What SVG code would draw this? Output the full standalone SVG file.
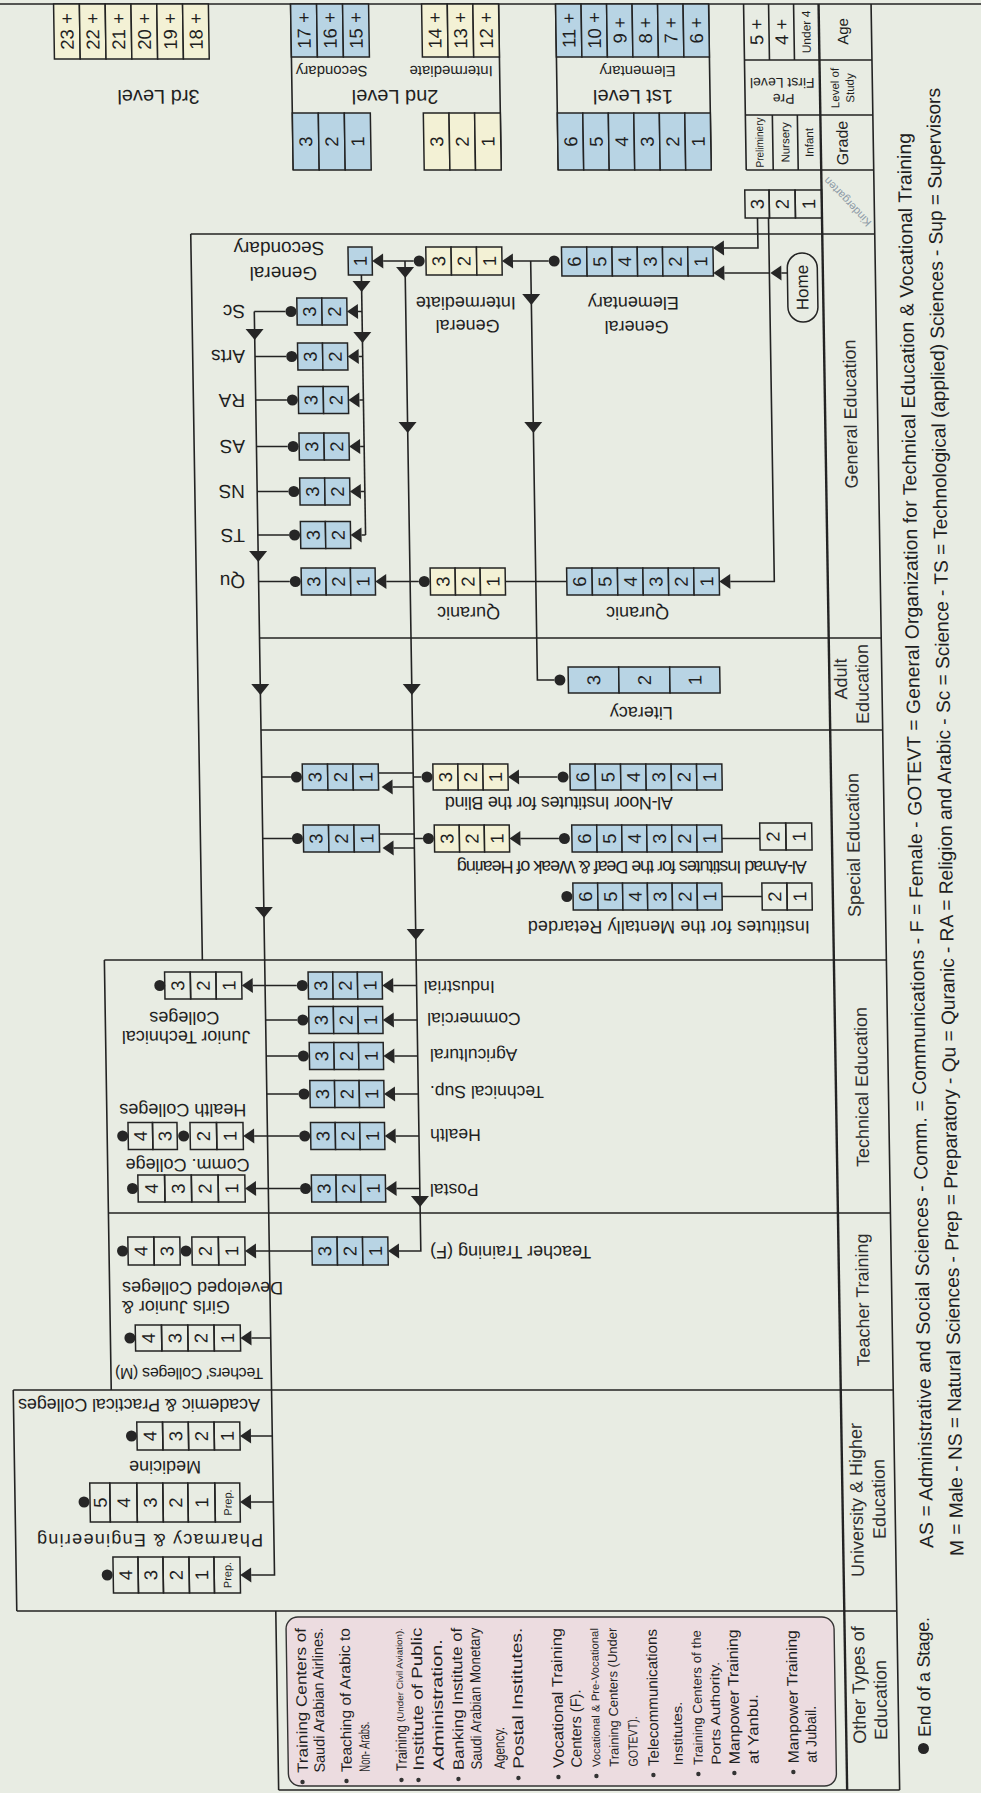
<svg xmlns="http://www.w3.org/2000/svg" width="981" height="1793" viewBox="0 0 981 1793">
<defs>
<style>
.l{stroke:#232323;stroke-width:1.6;fill:none}
.lt{stroke:#232323;stroke-width:2.4;fill:none}
.bx{stroke:#232323;stroke-width:1.5}
.b{fill:#b8d4e4}
.y{fill:#f3f1d5}
.w{fill:none}
.d,.a{fill:#262626}
text{font-family:"Liberation Sans",Arial,Helvetica,sans-serif;fill:#1f1f1f}
.n{font-size:18.5px;text-anchor:middle;dominant-baseline:central}
.ns{font-size:11px;text-anchor:middle;dominant-baseline:central}
.lb{font-size:18px;text-anchor:middle;dominant-baseline:central}
.ls{font-size:19px;text-anchor:start;dominant-baseline:central}
.le{font-size:17.5px;text-anchor:end;dominant-baseline:central}
.lv{font-size:20px;text-anchor:middle;dominant-baseline:central}
.sm{font-size:15px;text-anchor:middle;dominant-baseline:central}
.hd{font-size:18px;text-anchor:middle;dominant-baseline:central;fill:#2e2e2e}
.pk{font-size:15px;text-anchor:start;dominant-baseline:central}
.lg{font-size:19.2px;text-anchor:start;dominant-baseline:central}
</style>
<path id="ad" d="M-9,-11H9L0,0Z"/>
<path id="al" d="M0,0L11,-7.5V7.5Z"/>
</defs>
<rect width="981" height="1793" fill="#e8ece3"/>
<g transform="skewX(0.917)">

<g id="age-table">
<path class="l" d="M-2,4H990"/>
<g id="level3">
<rect class="bx y" x="53.5" y="4" width="25.8" height="55"/>
<rect class="bx y" x="79.3" y="4" width="25.8" height="55"/>
<rect class="bx y" x="105.1" y="4" width="25.8" height="55"/>
<rect class="bx y" x="130.9" y="4" width="25.8" height="55"/>
<rect class="bx y" x="156.7" y="4" width="25.8" height="55"/>
<rect class="bx y" x="182.5" y="4" width="25.8" height="55"/>
<text class="n" transform="translate(66.4,31.5) rotate(-90)">23 +</text>
<text class="n" transform="translate(92.2,31.5) rotate(-90)">22 +</text>
<text class="n" transform="translate(118,31.5) rotate(-90)">21 +</text>
<text class="n" transform="translate(143.8,31.5) rotate(-90)">20 +</text>
<text class="n" transform="translate(169.6,31.5) rotate(-90)">19 +</text>
<text class="n" transform="translate(195.4,31.5) rotate(-90)">18 +</text>
<text class="lv" transform="translate(157,97) rotate(180)">3rd Level</text>
</g>
<g id="level2">
<path class="l" d="M290.5,4V170M498.5,4V170"/>
<rect class="bx b" x="290.5" y="4" width="26" height="53"/>
<rect class="bx b" x="316.5" y="4" width="26" height="53"/>
<rect class="bx b" x="342.5" y="4" width="26" height="53"/>
<rect class="bx y" x="421.5" y="4" width="25.7" height="53"/>
<rect class="bx y" x="447.2" y="4" width="25.6" height="53"/>
<rect class="bx y" x="472.8" y="4" width="25.7" height="53"/>
<rect class="bx b" x="290.5" y="113" width="26" height="57"/>
<rect class="bx b" x="316.5" y="113" width="26" height="57"/>
<rect class="bx b" x="342.5" y="113" width="26" height="57"/>
<rect class="bx y" x="421.5" y="113" width="25.7" height="57"/>
<rect class="bx y" x="447.2" y="113" width="25.6" height="57"/>
<rect class="bx y" x="472.8" y="113" width="25.7" height="57"/>
<text class="n" transform="translate(303.5,30.5) rotate(-90)">17 +</text>
<text class="n" transform="translate(329.5,30.5) rotate(-90)">16 +</text>
<text class="n" transform="translate(355.5,30.5) rotate(-90)">15 +</text>
<text class="n" transform="translate(434.3,30.5) rotate(-90)">14 +</text>
<text class="n" transform="translate(460,30.5) rotate(-90)">13 +</text>
<text class="n" transform="translate(485.7,30.5) rotate(-90)">12 +</text>
<text class="n" transform="translate(303.5,141.5) rotate(-90)">3</text>
<text class="n" transform="translate(329.5,141.5) rotate(-90)">2</text>
<text class="n" transform="translate(355.5,141.5) rotate(-90)">1</text>
<text class="n" transform="translate(434.3,141.5) rotate(-90)">3</text>
<text class="n" transform="translate(460,141.5) rotate(-90)">2</text>
<text class="n" transform="translate(485.7,141.5) rotate(-90)">1</text>
<text class="sm" transform="translate(330.5,71) rotate(180)">Secondary</text>
<text class="sm" transform="translate(450,71) rotate(180)">Intermediate</text>
<text class="lv" transform="translate(393.5,97) rotate(180)">2nd Level</text>
</g>
<g id="level1">
<path class="l" d="M555.5,4V170M708.5,4V170"/>
<rect class="bx b" x="555.5" y="4" width="25.5" height="53"/>
<rect class="bx b" x="581" y="4" width="25.5" height="53"/>
<rect class="bx b" x="606.5" y="4" width="25.5" height="53"/>
<rect class="bx b" x="632" y="4" width="25.5" height="53"/>
<rect class="bx b" x="657.5" y="4" width="25.5" height="53"/>
<rect class="bx b" x="683" y="4" width="25.5" height="53"/>
<rect class="bx b" x="555.5" y="113" width="25.5" height="57"/>
<rect class="bx b" x="581" y="113" width="25.5" height="57"/>
<rect class="bx b" x="606.5" y="113" width="25.5" height="57"/>
<rect class="bx b" x="632" y="113" width="25.5" height="57"/>
<rect class="bx b" x="657.5" y="113" width="25.5" height="57"/>
<rect class="bx b" x="683" y="113" width="25.5" height="57"/>
<text class="n" transform="translate(568.3,30.5) rotate(-90)">11 +</text>
<text class="n" transform="translate(593.8,30.5) rotate(-90)">10 +</text>
<text class="n" transform="translate(619.3,30.5) rotate(-90)">9 +</text>
<text class="n" transform="translate(644.8,30.5) rotate(-90)">8 +</text>
<text class="n" transform="translate(670.3,30.5) rotate(-90)">7 +</text>
<text class="n" transform="translate(695.8,30.5) rotate(-90)">6 +</text>
<text class="n" transform="translate(568.3,141.5) rotate(-90)">6</text>
<text class="n" transform="translate(593.8,141.5) rotate(-90)">5</text>
<text class="n" transform="translate(619.3,141.5) rotate(-90)">4</text>
<text class="n" transform="translate(644.8,141.5) rotate(-90)">3</text>
<text class="n" transform="translate(670.3,141.5) rotate(-90)">2</text>
<text class="n" transform="translate(695.8,141.5) rotate(-90)">1</text>
<text class="sm" transform="translate(636.5,71) rotate(180)">Elementary</text>
<text class="lv" transform="translate(631.5,97) rotate(180)">1st Level</text>
</g>
<g id="prefirst">
<path class="l" d="M743.5,4V170M743.5,60H871M743.5,115H871M743.5,170H871M768.5,4V60M793.5,4V60M770.5,115V170M795.5,115V170"/>
<text class="n" transform="translate(756,32) rotate(-90)">5 +</text>
<text class="n" transform="translate(781,32) rotate(-90)">4 +</text>
<text class="ns" style="font-size:12px" transform="translate(806,32) rotate(-90)">Under 4</text>
<text class="ns" transform="translate(757,142.5) rotate(-90)" textLength="50" lengthAdjust="spacingAndGlyphs">Preliminery</text>
<text class="ns" style="font-size:11.5px" transform="translate(783,142.5) rotate(-90)">Nursery</text>
<text class="ns" style="font-size:11.5px" transform="translate(807,142.5) rotate(-90)">Infant</text>
<text class="ns" style="font-size:14px" transform="translate(781,83) rotate(180)">First Level</text>
<text class="ns" style="font-size:14px" transform="translate(782,99) rotate(180)">Pre</text>
</g>
<g id="header-top">
<text class="ns" style="font-size:15px" transform="translate(842,31.5) rotate(-90)">Age</text>
<text class="ns" style="font-size:11.5px" transform="translate(833.5,88) rotate(-90)">Level of</text>
<text class="ns" style="font-size:11.5px" transform="translate(848.5,88) rotate(-90)">Study</text>
<text class="ns" style="font-size:16px" transform="translate(840,143) rotate(-90)">Grade</text>
<text class="ns" style="font-size:11px;fill:#8d9aa6" transform="translate(844,202) rotate(-133)">Kindergarten</text>
</g>
</g>

<g id="frame">
<path class="lt" d="M818.5,4V1790"/>
<path class="l" d="M871,4V1790M187,234H871M187,234V960M89,960H871M249.3,638H871M249.3,730H871M89,960V1390M89,1213H871M-9,1390H871M-9,1390V1611M-9,1611H871M250,1611V1790M250,1790H871"/>
</g>

<g id="header">
<text class="hd" transform="translate(844,414) rotate(-90)">General Education</text>
<text class="hd" transform="translate(830,679) rotate(-90)">Adult</text>
<text class="hd" transform="translate(851.5,684) rotate(-90)">Education</text>
<text class="hd" transform="translate(840,845) rotate(-90)">Special Education</text>
<text class="hd" transform="translate(844.5,1087) rotate(-90)">Technical Education</text>
<text class="hd" transform="translate(842,1300) rotate(-90)">Teacher Training</text>
<text class="hd" transform="translate(832.7,1500) rotate(-90)">University &amp; Higher</text>
<text class="hd" transform="translate(855,1499) rotate(-90)">Education</text>
<text class="hd" transform="translate(832,1685) rotate(-90)">Other Types of</text>
<text class="hd" transform="translate(853.5,1700) rotate(-90)">Education</text>
</g>

<g id="connectors">
<path class="l" d="M249.3,311.5V1575H226"/>
<path class="l" d="M400.8,261V1251H379"/>
<path class="l" d="M526.5,261V680H543.5"/>
<path class="l" d="M357,275V535"/>
<path class="l" d="M379,261H409.5M508.8,261H544.5"/>
<path class="l" d="M754,218V248H720M765,218V581.5H721M765,273H720M777,273H783"/>
<path class="l" d="M249.3,311.5H280.5M353,311.5H357M249.3,356.5H280.5M353,356.5H357M249.3,400H280.5M353,400H357M249.3,446.5H280.5M353,446.5H357M249.3,491.5H280.5M353,491.5H357M249.3,535H280.5M353,535H357"/>
<path class="l" d="M249.3,581.5H280.5M377,581.5H409.5M496,581.5H557.5"/>
<path class="l" d="M249.3,777H278.5M366,773H400.8M380,787H400.8M400.8,777H409M506.6,777H545"/>
<path class="l" d="M249.3,838.5H278.5M366,834H400.8M380,848H400.8M400.8,838.5H409.5M507,838.5H545.5M708.5,838.5H746.5M707.7,896.5H747.7"/>
<path class="l" d="M237,985.5H281M377.5,985.5H400.8M249.3,1020H281M377.5,1020H400.8M249.3,1056H281M377.5,1056H400.8M249.3,1094H281M377.5,1094H400.8M236,1136H281M377.5,1136H400.8M237,1188.5H281M377.5,1188.5H400.8"/>
<path class="l" d="M236,1251H292M230,1338H249.3M228,1436H249.3M227,1502H249.3"/>
<use href="#ad" class="a" x="249.3" y="340"/>
<use href="#ad" class="a" x="249.3" y="562"/>
<use href="#ad" class="a" x="249.3" y="695"/>
<use href="#ad" class="a" x="249.3" y="918"/>
<use href="#ad" class="a" x="400.8" y="278"/>
<use href="#ad" class="a" x="400.8" y="433"/>
<use href="#ad" class="a" x="400.8" y="695"/>
<use href="#ad" class="a" x="400.8" y="940"/>
<use href="#ad" class="a" x="400.8" y="1207"/>
<use href="#ad" class="a" x="526.5" y="305"/>
<use href="#ad" class="a" x="526.5" y="433"/>
<use href="#ad" class="a" x="357" y="292"/>
<use href="#ad" class="a" x="357" y="343"/>
<use href="#al" class="a" x="368" y="261"/>
<use href="#al" class="a" x="497.8" y="261"/>
<use href="#al" class="a" x="709" y="248"/>
<use href="#al" class="a" x="709" y="273"/>
<use href="#al" class="a" x="766" y="273"/>
<use href="#al" class="a" x="342" y="311.5"/>
<use href="#al" class="a" x="342" y="356.5"/>
<use href="#al" class="a" x="342" y="400"/>
<use href="#al" class="a" x="342" y="446.5"/>
<use href="#al" class="a" x="342" y="491.5"/>
<use href="#al" class="a" x="342" y="535"/>
<use href="#al" class="a" x="366" y="581.5"/>
<use href="#al" class="a" x="710" y="581.5"/>
<use href="#al" class="a" x="369" y="787"/>
<use href="#al" class="a" x="495.6" y="777"/>
<use href="#al" class="a" x="369" y="848"/>
<use href="#al" class="a" x="496" y="838.5"/>
<use href="#al" class="a" x="366.5" y="985.5"/>
<use href="#al" class="a" x="366.5" y="1020"/>
<use href="#al" class="a" x="366.5" y="1056"/>
<use href="#al" class="a" x="366.5" y="1094"/>
<use href="#al" class="a" x="366.5" y="1136"/>
<use href="#al" class="a" x="366.5" y="1188.5"/>
<use href="#al" class="a" x="226" y="985.5"/>
<use href="#al" class="a" x="225" y="1136"/>
<use href="#al" class="a" x="226" y="1188.5"/>
<use href="#al" class="a" x="368" y="1251"/>
<use href="#al" class="a" x="225" y="1251"/>
<use href="#al" class="a" x="219" y="1338"/>
<use href="#al" class="a" x="217" y="1436"/>
<use href="#al" class="a" x="216" y="1502"/>
<use href="#al" class="a" x="215" y="1575"/>
</g>

<g id="kindergarten">
<rect class="bx w" x="741.7" y="190" width="24.3" height="28"/>
<rect class="bx w" x="766" y="190" width="26" height="28"/>
<rect class="bx w" x="792" y="190" width="26.5" height="28"/>
<text class="n" transform="translate(753.9,204) rotate(-90)">3</text>
<text class="n" transform="translate(779,204) rotate(-90)">2</text>
<text class="n" transform="translate(805.3,204) rotate(-90)">1</text>
</g>
<g id="home">
<rect class="bx w" x="783" y="253" width="30" height="69" rx="15"/>
<text class="n" style="font-size:17px" transform="translate(798,287.5) rotate(-90)">Home</text>
</g>

<g id="general-secondary">
<rect class="bx b" x="344" y="247" width="24" height="28"/>
<text class="n" transform="translate(356,261) rotate(-90)">1</text>
<text class="lb" style="font-size:19px" transform="translate(275,248) rotate(180)">Secondary</text>
<text class="lb" style="font-size:19px" transform="translate(279,273) rotate(180)">General</text>
</g>
<g id="general-intermediate">
<circle class="d" cx="415" cy="261" r="5.5"/>
<rect class="bx y" x="421.8" y="247" width="25.3" height="28"/>
<rect class="bx y" x="447.1" y="247" width="25.4" height="28"/>
<rect class="bx y" x="472.5" y="247" width="25.3" height="28"/>
<text class="n" transform="translate(434.5,261) rotate(-90)">3</text>
<text class="n" transform="translate(459.8,261) rotate(-90)">2</text>
<text class="n" transform="translate(485.2,261) rotate(-90)">1</text>
<text class="lb" transform="translate(461,303) rotate(180)">Intermediate</text>
<text class="lb" transform="translate(462.4,326) rotate(180)">General</text>
</g>
<g id="general-elementary">
<circle class="d" cx="550" cy="261" r="5.5"/>
<rect class="bx b" x="557.5" y="247" width="25.25" height="29"/>
<rect class="bx b" x="582.75" y="247" width="25.25" height="29"/>
<rect class="bx b" x="608" y="247" width="25.25" height="29"/>
<rect class="bx b" x="633.25" y="247" width="25.25" height="29"/>
<rect class="bx b" x="658.5" y="247" width="25.25" height="29"/>
<rect class="bx b" x="683.75" y="247" width="25.25" height="29"/>
<text class="n" transform="translate(570.1,261.5) rotate(-90)">6</text>
<text class="n" transform="translate(595.4,261.5) rotate(-90)">5</text>
<text class="n" transform="translate(620.6,261.5) rotate(-90)">4</text>
<text class="n" transform="translate(645.9,261.5) rotate(-90)">3</text>
<text class="n" transform="translate(671.1,261.5) rotate(-90)">2</text>
<text class="n" transform="translate(696.4,261.5) rotate(-90)">1</text>
<text class="lb" transform="translate(628.6,303) rotate(180)">Elementary</text>
<text class="lb" transform="translate(631.3,327) rotate(180)">General</text>
</g>

<g id="sec-branches">
<circle class="d" cx="286" cy="311.5" r="5.5"/><rect class="bx b" x="292" y="298" width="25" height="27"/><rect class="bx b" x="317" y="298" width="25" height="27"/>
<text class="n" transform="translate(304.5,311.5) rotate(-90)">3</text><text class="n" transform="translate(329.5,311.5) rotate(-90)">2</text>
<text class="ls" transform="translate(240,311.5) rotate(180)">Sc</text>
<circle class="d" cx="286" cy="356.5" r="5.5"/><rect class="bx b" x="292" y="343" width="25" height="27"/><rect class="bx b" x="317" y="343" width="25" height="27"/>
<text class="n" transform="translate(304.5,356.5) rotate(-90)">3</text><text class="n" transform="translate(329.5,356.5) rotate(-90)">2</text>
<text class="ls" transform="translate(239.3,356.5) rotate(180)">Arts</text>
<circle class="d" cx="286" cy="400" r="5.5"/><rect class="bx b" x="292" y="386.5" width="25" height="27"/><rect class="bx b" x="317" y="386.5" width="25" height="27"/>
<text class="n" transform="translate(304.5,400) rotate(-90)">3</text><text class="n" transform="translate(329.5,400) rotate(-90)">2</text>
<text class="ls" transform="translate(238.6,400) rotate(180)">RA</text>
<circle class="d" cx="286" cy="446.5" r="5.5"/><rect class="bx b" x="292" y="433" width="25" height="27"/><rect class="bx b" x="317" y="433" width="25" height="27"/>
<text class="n" transform="translate(304.5,446.5) rotate(-90)">3</text><text class="n" transform="translate(329.5,446.5) rotate(-90)">2</text>
<text class="ls" transform="translate(237.9,446.5) rotate(180)">AS</text>
<circle class="d" cx="286" cy="491.5" r="5.5"/><rect class="bx b" x="292" y="478" width="25" height="27"/><rect class="bx b" x="317" y="478" width="25" height="27"/>
<text class="n" transform="translate(304.5,491.5) rotate(-90)">3</text><text class="n" transform="translate(329.5,491.5) rotate(-90)">2</text>
<text class="ls" transform="translate(237.1,491.5) rotate(180)">NS</text>
<circle class="d" cx="286" cy="535" r="5.5"/><rect class="bx b" x="292" y="521.5" width="25" height="27"/><rect class="bx b" x="317" y="521.5" width="25" height="27"/>
<text class="n" transform="translate(304.5,535) rotate(-90)">3</text><text class="n" transform="translate(329.5,535) rotate(-90)">2</text>
<text class="ls" transform="translate(236.4,535) rotate(180)">TS</text>
<circle class="d" cx="286" cy="581.5" r="5.5"/>
<rect class="bx b" x="292" y="568" width="24.7" height="27"/><rect class="bx b" x="316.7" y="568" width="24.6" height="27"/><rect class="bx b" x="341.3" y="568" width="24.7" height="27"/>
<text class="n" transform="translate(304.3,581.5) rotate(-90)">3</text><text class="n" transform="translate(329,581.5) rotate(-90)">2</text><text class="n" transform="translate(353.6,581.5) rotate(-90)">1</text>
<text class="ls" transform="translate(235.7,581.5) rotate(180)">Qu</text>
</g>

<g id="quranic">
<circle class="d" cx="415" cy="581.5" r="5.5"/>
<rect class="bx y" x="421" y="568" width="25" height="27"/><rect class="bx y" x="446" y="568" width="25" height="27"/><rect class="bx y" x="471" y="568" width="25" height="27"/>
<text class="n" transform="translate(433.5,581.5) rotate(-90)">3</text><text class="n" transform="translate(458.5,581.5) rotate(-90)">2</text><text class="n" transform="translate(483.5,581.5) rotate(-90)">1</text>
<text class="lb" transform="translate(458.7,613) rotate(180)">Quranic</text>
<rect class="bx b" x="557.5" y="568" width="25.4" height="27"/><rect class="bx b" x="582.9" y="568" width="25.4" height="27"/><rect class="bx b" x="608.3" y="568" width="25.45" height="27"/><rect class="bx b" x="633.75" y="568" width="25.45" height="27"/><rect class="bx b" x="659.2" y="568" width="25.4" height="27"/><rect class="bx b" x="684.6" y="568" width="25.4" height="27"/>
<text class="n" transform="translate(570.2,581.5) rotate(-90)">6</text><text class="n" transform="translate(595.6,581.5) rotate(-90)">5</text><text class="n" transform="translate(621,581.5) rotate(-90)">4</text><text class="n" transform="translate(646.5,581.5) rotate(-90)">3</text><text class="n" transform="translate(671.9,581.5) rotate(-90)">2</text><text class="n" transform="translate(697.3,581.5) rotate(-90)">1</text>
<text class="lb" transform="translate(627.7,613) rotate(180)">Quranic</text>
</g>

<g id="literacy">
<circle class="d" cx="549" cy="680" r="5.5"/>
<rect class="bx b" x="557.4" y="667" width="50.6" height="26"/><rect class="bx b" x="608" y="667" width="51" height="26"/><rect class="bx b" x="659" y="667" width="50" height="26"/>
<text class="n" transform="translate(582.7,680) rotate(-90)">3</text><text class="n" transform="translate(633.5,680) rotate(-90)">2</text><text class="n" transform="translate(684,680) rotate(-90)">1</text>
<text class="lb" transform="translate(630,713) rotate(180)">Literacy</text>
</g>

<g id="al-noor">
<circle class="d" cx="284" cy="777" r="5.5"/>
<rect class="bx b" x="290" y="764" width="25.3" height="26"/><rect class="bx b" x="315.3" y="764" width="25.4" height="26"/><rect class="bx b" x="340.7" y="764" width="25.3" height="26"/>
<text class="n" transform="translate(302.6,777) rotate(-90)">3</text><text class="n" transform="translate(328,777) rotate(-90)">2</text><text class="n" transform="translate(353.4,777) rotate(-90)">1</text>
<circle class="d" cx="414.6" cy="777" r="5.5"/>
<rect class="bx y" x="420.6" y="764" width="25" height="26"/><rect class="bx y" x="445.6" y="764" width="25" height="26"/><rect class="bx y" x="470.6" y="764" width="25" height="26"/>
<text class="n" transform="translate(433.1,777) rotate(-90)">3</text><text class="n" transform="translate(458.1,777) rotate(-90)">2</text><text class="n" transform="translate(483.1,777) rotate(-90)">1</text>
<circle class="d" cx="550.6" cy="777" r="5.5"/>
<rect class="bx b" x="557.6" y="764" width="25.3" height="26"/><rect class="bx b" x="582.9" y="764" width="25.4" height="26"/><rect class="bx b" x="608.3" y="764" width="25.3" height="26"/><rect class="bx b" x="633.6" y="764" width="25.3" height="26"/><rect class="bx b" x="658.9" y="764" width="25.4" height="26"/><rect class="bx b" x="684.3" y="764" width="25.3" height="26"/>
<text class="n" transform="translate(570.3,777) rotate(-90)">6</text><text class="n" transform="translate(595.6,777) rotate(-90)">5</text><text class="n" transform="translate(621,777) rotate(-90)">4</text><text class="n" transform="translate(646.3,777) rotate(-90)">3</text><text class="n" transform="translate(671.6,777) rotate(-90)">2</text><text class="n" transform="translate(697,777) rotate(-90)">1</text>
<text class="lb" transform="translate(546,803) rotate(180)" textLength="228">Al-Noor Institutes for the Blind</text>
</g>

<g id="al-amad">
<circle class="d" cx="284" cy="838.5" r="5.5"/>
<rect class="bx b" x="290" y="825" width="25.3" height="27"/><rect class="bx b" x="315.3" y="825" width="25.4" height="27"/><rect class="bx b" x="340.7" y="825" width="25.3" height="27"/>
<text class="n" transform="translate(302.6,838.5) rotate(-90)">3</text><text class="n" transform="translate(328,838.5) rotate(-90)">2</text><text class="n" transform="translate(353.4,838.5) rotate(-90)">1</text>
<circle class="d" cx="415" cy="838.5" r="5.5"/>
<rect class="bx y" x="421" y="825" width="25" height="27"/><rect class="bx y" x="446" y="825" width="25" height="27"/><rect class="bx y" x="471" y="825" width="25" height="27"/>
<text class="n" transform="translate(433.5,838.5) rotate(-90)">3</text><text class="n" transform="translate(458.5,838.5) rotate(-90)">2</text><text class="n" transform="translate(483.5,838.5) rotate(-90)">1</text>
<circle class="d" cx="551" cy="838.5" r="5.5"/>
<rect class="bx b" x="558.5" y="825" width="25" height="27"/><rect class="bx b" x="583.5" y="825" width="25" height="27"/><rect class="bx b" x="608.5" y="825" width="25" height="27"/><rect class="bx b" x="633.5" y="825" width="25" height="27"/><rect class="bx b" x="658.5" y="825" width="25" height="27"/><rect class="bx b" x="683.5" y="825" width="25" height="27"/>
<text class="n" transform="translate(571,838.5) rotate(-90)">6</text><text class="n" transform="translate(596,838.5) rotate(-90)">5</text><text class="n" transform="translate(621,838.5) rotate(-90)">4</text><text class="n" transform="translate(646,838.5) rotate(-90)">3</text><text class="n" transform="translate(671,838.5) rotate(-90)">2</text><text class="n" transform="translate(696,838.5) rotate(-90)">1</text>
<rect class="bx w" x="746.5" y="823" width="26" height="27"/><rect class="bx w" x="772.5" y="823" width="26" height="27"/>
<text class="n" transform="translate(759.5,836.5) rotate(-90)">2</text><text class="n" transform="translate(785.5,836.5) rotate(-90)">1</text>
<text class="lb" transform="translate(618,867) rotate(180)" textLength="350">Al-Amad Institutes for the Deaf &amp; Weak of Hearing</text>
</g>

<g id="mentally-retarded">
<circle class="d" cx="552.5" cy="896.5" r="5.5"/>
<rect class="bx b" x="558.7" y="883" width="24.8" height="27"/><rect class="bx b" x="583.5" y="883" width="24.9" height="27"/><rect class="bx b" x="608.4" y="883" width="24.8" height="27"/><rect class="bx b" x="633.2" y="883" width="24.8" height="27"/><rect class="bx b" x="658" y="883" width="24.9" height="27"/><rect class="bx b" x="682.9" y="883" width="24.8" height="27"/>
<text class="n" transform="translate(571.1,896.5) rotate(-90)">6</text><text class="n" transform="translate(596,896.5) rotate(-90)">5</text><text class="n" transform="translate(620.8,896.5) rotate(-90)">4</text><text class="n" transform="translate(645.6,896.5) rotate(-90)">3</text><text class="n" transform="translate(670.5,896.5) rotate(-90)">2</text><text class="n" transform="translate(695.3,896.5) rotate(-90)">1</text>
<rect class="bx w" x="747.7" y="883" width="25" height="27"/><rect class="bx w" x="772.7" y="883" width="25" height="27"/>
<text class="n" transform="translate(760.2,896.5) rotate(-90)">2</text><text class="n" transform="translate(785.2,896.5) rotate(-90)">1</text>
<text class="lb" transform="translate(654,927) rotate(180)" textLength="282">Institutes for the Mentally Retarded</text>
</g>

<g id="technical-institutes">
<circle class="d" cx="286.5" cy="985.5" r="5.5"/><rect class="bx b" x="292.5" y="972" width="24.7" height="27"/><rect class="bx b" x="317.2" y="972" width="24.6" height="27"/><rect class="bx b" x="341.8" y="972" width="24.7" height="27"/>
<text class="n" transform="translate(304.8,985.5) rotate(-90)">3</text><text class="n" transform="translate(329.5,985.5) rotate(-90)">2</text><text class="n" transform="translate(354.2,985.5) rotate(-90)">1</text>
<text class="le" transform="translate(408,987) rotate(180)">Industrial</text>
<circle class="d" cx="286.5" cy="1020" r="5.5"/><rect class="bx b" x="292.5" y="1006.5" width="24.7" height="27"/><rect class="bx b" x="317.2" y="1006.5" width="24.6" height="27"/><rect class="bx b" x="341.8" y="1006.5" width="24.7" height="27"/>
<text class="n" transform="translate(304.8,1020) rotate(-90)">3</text><text class="n" transform="translate(329.5,1020) rotate(-90)">2</text><text class="n" transform="translate(354.2,1020) rotate(-90)">1</text>
<text class="le" transform="translate(411,1019) rotate(180)">Commercial</text>
<circle class="d" cx="286.5" cy="1056" r="5.5"/><rect class="bx b" x="292.5" y="1042.5" width="24.7" height="27"/><rect class="bx b" x="317.2" y="1042.5" width="24.6" height="27"/><rect class="bx b" x="341.8" y="1042.5" width="24.7" height="27"/>
<text class="n" transform="translate(304.8,1056) rotate(-90)">3</text><text class="n" transform="translate(329.5,1056) rotate(-90)">2</text><text class="n" transform="translate(354.2,1056) rotate(-90)">1</text>
<text class="le" transform="translate(413,1055) rotate(180)">Agricultural</text>
<circle class="d" cx="286.5" cy="1094" r="5.5"/><rect class="bx b" x="292.5" y="1080.5" width="24.7" height="27"/><rect class="bx b" x="317.2" y="1080.5" width="24.6" height="27"/><rect class="bx b" x="341.8" y="1080.5" width="24.7" height="27"/>
<text class="n" transform="translate(304.8,1094) rotate(-90)">3</text><text class="n" transform="translate(329.5,1094) rotate(-90)">2</text><text class="n" transform="translate(354.2,1094) rotate(-90)">1</text>
<text class="le" transform="translate(412.5,1092) rotate(180)">Technical Sup.</text>
<circle class="d" cx="286.5" cy="1136" r="5.5"/><rect class="bx b" x="292.5" y="1122.5" width="24.7" height="27"/><rect class="bx b" x="317.2" y="1122.5" width="24.6" height="27"/><rect class="bx b" x="341.8" y="1122.5" width="24.7" height="27"/>
<text class="n" transform="translate(304.8,1136) rotate(-90)">3</text><text class="n" transform="translate(329.5,1136) rotate(-90)">2</text><text class="n" transform="translate(354.2,1136) rotate(-90)">1</text>
<text class="le" transform="translate(412,1135) rotate(180)">Health</text>
<circle class="d" cx="286.5" cy="1188.5" r="5.5"/><rect class="bx b" x="292.5" y="1175" width="24.7" height="27"/><rect class="bx b" x="317.2" y="1175" width="24.6" height="27"/><rect class="bx b" x="341.8" y="1175" width="24.7" height="27"/>
<text class="n" transform="translate(304.8,1188.5) rotate(-90)">3</text><text class="n" transform="translate(329.5,1188.5) rotate(-90)">2</text><text class="n" transform="translate(354.2,1188.5) rotate(-90)">1</text>
<text class="le" transform="translate(411,1190) rotate(180)">Postal</text>
</g>

<g id="junior-technical-colleges">
<circle class="d" cx="144" cy="985.5" r="5.5"/>
<rect class="bx w" x="149" y="972" width="25.7" height="27"/><rect class="bx w" x="174.7" y="972" width="25.6" height="27"/><rect class="bx w" x="200.3" y="972" width="25.7" height="27"/>
<text class="n" transform="translate(161.8,985.5) rotate(-90)">3</text><text class="n" transform="translate(187.5,985.5) rotate(-90)">2</text><text class="n" transform="translate(213.1,985.5) rotate(-90)">1</text>
<text class="lb" transform="translate(168,1018) rotate(180)">Colleges</text>
<text class="lb" transform="translate(169.5,1037) rotate(180)">Junior Technical</text>
</g>
<g id="health-colleges">
<circle class="d" cx="104.5" cy="1136" r="5.5"/>
<rect class="bx w" x="110" y="1122.5" width="24.5" height="27"/><rect class="bx w" x="134.5" y="1122.5" width="24.5" height="27"/>
<circle class="d" cx="165.5" cy="1136" r="5.5"/>
<rect class="bx w" x="172" y="1122.5" width="26.5" height="27"/><rect class="bx w" x="198.5" y="1122.5" width="26.5" height="27"/>
<text class="n" transform="translate(122.2,1136) rotate(-90)">4</text><text class="n" transform="translate(146.7,1136) rotate(-90)">3</text><text class="n" transform="translate(185.2,1136) rotate(-90)">2</text><text class="n" transform="translate(211.7,1136) rotate(-90)">1</text>
<text class="lb" transform="translate(165,1110) rotate(180)">Health Colleges</text>
</g>
<g id="comm-college">
<circle class="d" cx="113.5" cy="1188.5" r="5.5"/>
<rect class="bx w" x="119" y="1175" width="26.75" height="27"/><rect class="bx w" x="145.75" y="1175" width="26.75" height="27"/><rect class="bx w" x="172.5" y="1175" width="26.75" height="27"/><rect class="bx w" x="199.25" y="1175" width="26.75" height="27"/>
<text class="n" transform="translate(132.4,1188.5) rotate(-90)">4</text><text class="n" transform="translate(159.1,1188.5) rotate(-90)">3</text><text class="n" transform="translate(185.9,1188.5) rotate(-90)">2</text><text class="n" transform="translate(212.6,1188.5) rotate(-90)">1</text>
<text class="lb" transform="translate(169,1165) rotate(180)">Comm. College</text>
</g>

<g id="teacher-training-f">
<rect class="bx b" x="292" y="1237" width="25.3" height="28"/><rect class="bx b" x="317.3" y="1237" width="25.4" height="28"/><rect class="bx b" x="342.7" y="1237" width="25.3" height="28"/>
<text class="n" transform="translate(304.6,1251) rotate(-90)">3</text><text class="n" transform="translate(330,1251) rotate(-90)">2</text><text class="n" transform="translate(355.3,1251) rotate(-90)">1</text>
<text class="le" style="font-size:18px" transform="translate(410,1252) rotate(180)">Teacher Training (F)</text>
</g>
<g id="girls-colleges">
<circle class="d" cx="102.5" cy="1251" r="5.5"/>
<rect class="bx w" x="108" y="1237" width="26" height="28"/><rect class="bx w" x="134" y="1237" width="26" height="28"/>
<circle class="d" cx="166" cy="1251" r="5.5"/>
<rect class="bx w" x="172" y="1237" width="26.5" height="28"/><rect class="bx w" x="198.5" y="1237" width="26.5" height="28"/>
<text class="n" transform="translate(121,1251) rotate(-90)">4</text><text class="n" transform="translate(147,1251) rotate(-90)">3</text><text class="n" transform="translate(185.2,1251) rotate(-90)">2</text><text class="n" transform="translate(211.7,1251) rotate(-90)">1</text>
<text class="le" style="font-size:18px" transform="translate(101.5,1288) rotate(180)">Developed Colleges</text>
<text class="le" style="font-size:18px" transform="translate(101,1307) rotate(180)">Girls Junior &amp;</text>
</g>
<g id="teachers-colleges-m">
<circle class="d" cx="108.5" cy="1338" r="5.5"/>
<rect class="bx w" x="114" y="1325" width="26.25" height="26"/><rect class="bx w" x="140.25" y="1325" width="26.25" height="26"/><rect class="bx w" x="166.5" y="1325" width="26.25" height="26"/><rect class="bx w" x="192.75" y="1325" width="26.25" height="26"/>
<text class="n" transform="translate(127.1,1338) rotate(-90)">4</text><text class="n" transform="translate(153.4,1338) rotate(-90)">3</text><text class="n" transform="translate(179.6,1338) rotate(-90)">2</text><text class="n" transform="translate(205.9,1338) rotate(-90)">1</text>
<text class="lb" style="font-size:16px" transform="translate(167,1373) rotate(180)" textLength="148">Techers' Colleges (M)</text>
</g>

<g id="university">
<text class="lb" transform="translate(116.5,1405) rotate(180)" textLength="242">Academic &amp; Practical Colleges</text>
<circle class="d" cx="108.5" cy="1436" r="5.5"/>
<rect class="bx w" x="114" y="1422" width="25.75" height="28"/><rect class="bx w" x="139.75" y="1422" width="25.75" height="28"/><rect class="bx w" x="165.5" y="1422" width="25.75" height="28"/><rect class="bx w" x="191.25" y="1422" width="25.75" height="28"/>
<text class="n" transform="translate(126.9,1436) rotate(-90)">4</text><text class="n" transform="translate(152.6,1436) rotate(-90)">3</text><text class="n" transform="translate(178.4,1436) rotate(-90)">2</text><text class="n" transform="translate(204.1,1436) rotate(-90)">1</text>
<text class="lb" transform="translate(141.5,1467) rotate(180)">Medicine</text>
<circle class="d" cx="60" cy="1502" r="5.5"/>
<rect class="bx w" x="66" y="1483" width="20" height="39"/><rect class="bx w" x="86" y="1483" width="27" height="39"/><rect class="bx w" x="113" y="1483" width="26" height="39"/><rect class="bx w" x="139" y="1483" width="25" height="39"/><rect class="bx w" x="164" y="1483" width="27" height="39"/><rect class="bx w" x="191" y="1483" width="25" height="39"/>
<text class="n" transform="translate(76,1502.5) rotate(-90)">5</text><text class="n" transform="translate(99.5,1502.5) rotate(-90)">4</text><text class="n" transform="translate(126,1502.5) rotate(-90)">3</text><text class="n" transform="translate(151.5,1502.5) rotate(-90)">2</text><text class="n" transform="translate(177.5,1502.5) rotate(-90)">1</text><text class="ns" transform="translate(203.5,1502.5) rotate(-90)">Prep.</text>
<text class="lb" transform="translate(125.4,1540) rotate(180)" textLength="226">Pharmacy &amp; Engineering</text>
<circle class="d" cx="82" cy="1575" r="5.5"/>
<rect class="bx w" x="88" y="1557" width="25" height="36"/><rect class="bx w" x="113" y="1557" width="25" height="36"/><rect class="bx w" x="138" y="1557" width="26" height="36"/><rect class="bx w" x="164" y="1557" width="25" height="36"/><rect class="bx w" x="189" y="1557" width="26" height="36"/>
<text class="n" transform="translate(100.5,1575) rotate(-90)">4</text><text class="n" transform="translate(125.5,1575) rotate(-90)">3</text><text class="n" transform="translate(151,1575) rotate(-90)">2</text><text class="n" transform="translate(176.5,1575) rotate(-90)">1</text><text class="ns" transform="translate(202,1575) rotate(-90)">Prep.</text>
</g>

<g id="other-types">
<rect x="260" y="1617" width="548" height="169" rx="12" fill="#ecdce0" stroke="#333" stroke-width="1.4"/>
<g fill="#333">
<circle cx="274" cy="1782" r="2.2"/><circle cx="318" cy="1781" r="2.2"/><circle cx="373" cy="1780" r="2.2"/><circle cx="390" cy="1780" r="2.2"/><circle cx="430" cy="1779" r="2.2"/><circle cx="490" cy="1778" r="2.2"/><circle cx="530" cy="1777" r="2.2"/><circle cx="568" cy="1776" r="2.2"/><circle cx="625" cy="1775" r="2.2"/><circle cx="670" cy="1774" r="2.2"/><circle cx="706" cy="1773" r="2.2"/><circle cx="765" cy="1772" r="2.2"/>
</g>
<text class="pk" transform="translate(274,1773) rotate(-90)" textLength="145" lengthAdjust="spacingAndGlyphs">Training Centers of</text>
<text class="pk" transform="translate(291,1772.6) rotate(-90)" textLength="145" lengthAdjust="spacingAndGlyphs">Saudi Arabian Airlines.</text>
<text class="pk" transform="translate(318,1772) rotate(-90)" textLength="144" lengthAdjust="spacingAndGlyphs">Teaching of Arabic to</text>
<text class="pk" transform="translate(336,1771.7) rotate(-90)" textLength="50" lengthAdjust="spacingAndGlyphs">Non- Arabs.</text>
<text class="pk" transform="translate(373,1771) rotate(-90)" textLength="46" lengthAdjust="spacingAndGlyphs">Training</text>
<text class="pk" style="font-size:9px" transform="translate(373,1722) rotate(-90)" textLength="94" lengthAdjust="spacingAndGlyphs">(Under Civil Aviation).</text>
<text class="pk" transform="translate(390,1770.7) rotate(-90)" textLength="143" lengthAdjust="spacingAndGlyphs">Institute of Public</text>
<text class="pk" transform="translate(410,1770.3) rotate(-90)" textLength="131" lengthAdjust="spacingAndGlyphs">Administration.</text>
<text class="pk" transform="translate(430,1769.9) rotate(-90)" textLength="142" lengthAdjust="spacingAndGlyphs">Banking Institute of</text>
<text class="pk" transform="translate(448,1769.5) rotate(-90)" textLength="142" lengthAdjust="spacingAndGlyphs">Saudi Arabian Monetary</text>
<text class="pk" transform="translate(471,1769) rotate(-90)" textLength="42" lengthAdjust="spacingAndGlyphs">Agency.</text>
<text class="pk" transform="translate(490,1768.7) rotate(-90)" textLength="141" lengthAdjust="spacingAndGlyphs">Postal Institutes.</text>
<text class="pk" transform="translate(530,1767.9) rotate(-90)" textLength="140" lengthAdjust="spacingAndGlyphs">Vocational Training</text>
<text class="pk" transform="translate(548,1767.5) rotate(-90)" textLength="78" lengthAdjust="spacingAndGlyphs">Centers (F).</text>
<text class="pk" style="font-size:11px" transform="translate(568,1767.1) rotate(-90)" textLength="139" lengthAdjust="spacingAndGlyphs">Vocational &amp; Pre-Vocational</text>
<text class="pk" style="font-size:13px" transform="translate(586,1766.7) rotate(-90)" textLength="139" lengthAdjust="spacingAndGlyphs">Training Centers (Under</text>
<text class="pk" style="font-size:13px" transform="translate(605,1766.4) rotate(-90)" textLength="50" lengthAdjust="spacingAndGlyphs">GOTEVT).</text>
<text class="pk" transform="translate(625,1766) rotate(-90)" textLength="137" lengthAdjust="spacingAndGlyphs">Telecommunications</text>
<text class="pk" style="font-size:13px" transform="translate(650,1765.5) rotate(-90)" textLength="64" lengthAdjust="spacingAndGlyphs">Institutes.</text>
<text class="pk" style="font-size:13px" transform="translate(670,1765) rotate(-90)" textLength="135" lengthAdjust="spacingAndGlyphs">Training Centers of the</text>
<text class="pk" style="font-size:13px" transform="translate(688,1764.7) rotate(-90)" textLength="103" lengthAdjust="spacingAndGlyphs">Ports Authority.</text>
<text class="pk" transform="translate(706,1764.3) rotate(-90)" textLength="135" lengthAdjust="spacingAndGlyphs">Manpower Training</text>
<text class="pk" transform="translate(725,1764) rotate(-90)" textLength="70" lengthAdjust="spacingAndGlyphs">at Yanbu.</text>
<text class="pk" transform="translate(765,1763.2) rotate(-90)" textLength="133" lengthAdjust="spacingAndGlyphs">Manpower Training</text>
<text class="pk" transform="translate(783,1762.8) rotate(-90)" textLength="57" lengthAdjust="spacingAndGlyphs">at Jubail.</text>
</g>

<g id="legend">
<circle class="d" cx="895.5" cy="1748.5" r="5.5"/>
<text class="lg" style="font-size:18px" transform="translate(897,1737) rotate(-90)" textLength="120">End of a Stage.</text>
<text class="lg" transform="translate(902,1548) rotate(-90)" textLength="1415">AS = Administrative and Social Sciences - Comm. = Communications - F = Female - GOTEVT = General Organization for Technical Education &amp; Vocational Training</text>
<text class="lg" transform="translate(932,1556) rotate(-90)" textLength="1468">M = Male  -  NS = Natural Sciences - Prep = Preparatory - Qu = Quranic - RA = Religion and Arabic - Sc = Science - TS = Technological (applied) Sciences - Sup = Supervisors</text>
</g>

</g>
</svg>
